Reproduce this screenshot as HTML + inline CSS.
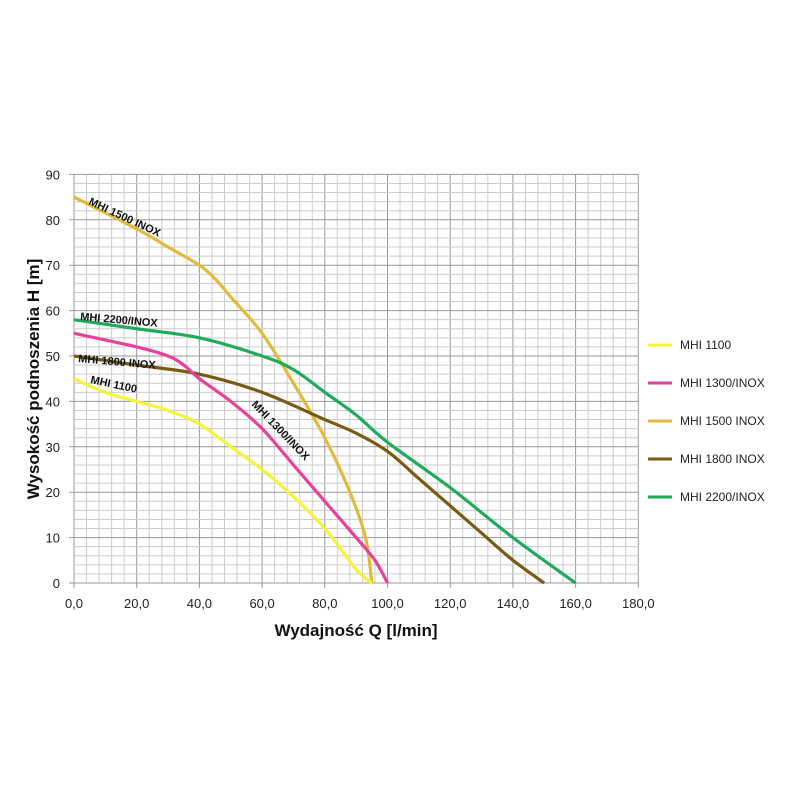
<!DOCTYPE html>
<html><head><meta charset="utf-8"><style>
html,body{margin:0;padding:0;background:#fff;}
svg{display:block;font-family:"Liberation Sans",sans-serif;}
</style></head><body>
<svg id="s" width="800" height="800" viewBox="0 0 800 800" xmlns="http://www.w3.org/2000/svg">
<rect width="800" height="800" fill="#fff"/>
<g id="grid"></g>
<g id="curves"></g>
<g font-size="13" fill="#222" id="ticks"></g>
<text x="356" y="636" font-size="17" font-weight="bold" text-anchor="middle" fill="#111">Wydajność Q [l/min]</text>
<text transform="translate(39,379) rotate(-90)" font-size="17" font-weight="bold" text-anchor="middle" fill="#111">Wysokość podnoszenia H [m]</text>
<g font-size="11" font-weight="bold" fill="#111">
<text transform="translate(88,204) rotate(25)">MHI 1500 INOX</text>
<text transform="translate(80,320) rotate(5)">MHI 2200/INOX</text>
<text transform="translate(78,362) rotate(5)">MHI 1800 INOX</text>
<text transform="translate(90,383) rotate(12)">MHI 1100</text>
<text transform="translate(251,405) rotate(46)">MHI 1300/INOX</text>
</g>
<g font-size="12" fill="#222">
<line x1="648" y1="345" x2="672" y2="345" stroke="#f4f43c" stroke-width="3"/><text x="680" y="349">MHI 1100</text>
<line x1="648" y1="383" x2="672" y2="383" stroke="#e6419b" stroke-width="3"/><text x="680" y="387">MHI 1300/INOX</text>
<line x1="648" y1="421" x2="672" y2="421" stroke="#e2bb3c" stroke-width="3"/><text x="680" y="425">MHI 1500 INOX</text>
<line x1="648" y1="459" x2="672" y2="459" stroke="#7a5a12" stroke-width="3"/><text x="680" y="463">MHI 1800 INOX</text>
<line x1="648" y1="497" x2="672" y2="497" stroke="#1fab5b" stroke-width="3"/><text x="680" y="501">MHI 2200/INOX</text>
</g>
</svg>
<script>
var X0=74,SX=62.7/20,Y0=583,SY=45.4/10;
function px(x){return X0+x*SX}function py(y){return Y0-y*SY}
var g=document.getElementById('grid'),h='';
for(var x=0;x<=180;x+=4){var m=x%20==0;h+='<line x1="'+px(x)+'" y1="'+py(90)+'" x2="'+px(x)+'" y2="'+(py(0)+(m?5:0))+'" stroke="'+(m?'#999':'#ccc')+'" stroke-width="1"/>';}
for(var y=0;y<=90;y+=2){var m=y%10==0;h+='<line x1="'+(px(0)-(m?5:0))+'" y1="'+py(y)+'" x2="'+px(180)+'" y2="'+py(y)+'" stroke="'+(m?'#999':'#ccc')+'" stroke-width="1"/>';}
g.innerHTML=h;
var t='';
for(var x=0;x<=180;x+=20)t+='<text x="'+px(x)+'" y="608" text-anchor="middle">'+x+',0</text>';
for(var y=0;y<=90;y+=10)t+='<text x="60" y="'+(py(y)+5)+'" text-anchor="end">'+y+'</text>';
document.getElementById('ticks').innerHTML=t;
var C=[
['#e2bb3c',[[0,85],[20,78],[30,74],[40,70],[45,67],[50,63],[60,55],[70,44],[80,32],[88,20],[93,10],[95,0]]],
['#7a5a12',[[0,50],[20,48],[40,46],[60,42],[80,36],[90,33],[100,29],[110,23],[120,17],[130,11],[140,5],[150,0]]],
['#1fab5b',[[0,58],[20,56],[40,54],[60,50],[70,47],[80,42],[90,37],[100,31],[120,21],[140,10],[160,0]]],
['#e6419b',[[0,55],[20,52],[30,50],[35,48],[40,45],[50,40],[60,34],[70,26],[80,18],[90,10],[96,5],[100,0]]],
['#f4f43c',[[0,45],[10,42],[20,40],[30,38],[40,35],[50,30],[60,25],[70,19],[80,12],[90,3],[95,0]]]
];
var c='';
C.forEach(function(s){var p=s[1].map(function(a){return[px(a[0]),py(a[1])]});
var d='M'+p[0][0]+','+p[0][1];
for(var i=0;i<p.length-1;i++){var a=p[i-1]||p[i],b=p[i],e=p[i+1],f=p[i+2]||e;
d+=' C'+(b[0]+(e[0]-a[0])/6)+','+(b[1]+(e[1]-a[1])/6)+' '+(e[0]-(f[0]-b[0])/6)+','+(e[1]-(f[1]-b[1])/6)+' '+e[0]+','+e[1];}
c+='<path d="'+d+'" fill="none" stroke="'+s[0]+'" stroke-width="3.2"/>';});
document.getElementById('curves').innerHTML=c;
</script>
</body></html>
